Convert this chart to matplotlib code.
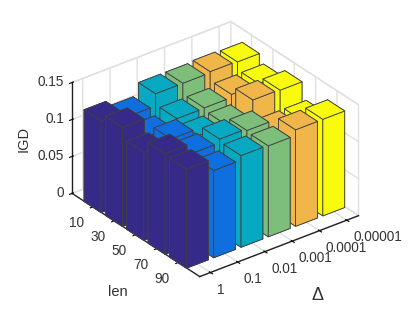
#!/usr/bin/env python3
"""3D bar chart of IGD against len and delta"""

import matplotlib
matplotlib.use("Agg")
import matplotlib.pyplot as plt
from mpl_toolkits.mplot3d import proj3d

plt.rcParams['font.family'] = ['Liberation Sans', 'DejaVu Sans']

delta_labels = ['1', '0.1', '0.01', '0.001', '0.0001', '0.00001']
len_labels = ['10', '30', '50', '70', '90']
z_ticks = [0, 0.05, 0.1, 0.15]
z_labels = ['0', '0.05', '0.1', '0.15']

# one list per delta, rows go len = 10, 30, 50, 70, 90
igd_1 = [0.124, 0.134, 0.119, 0.136, 0.134]
igd_01 = [0.116, 0.109, 0.123, 0.1225, 0.118]
igd_001 = [0.1325, 0.1176, 0.1135, 0.1275, 0.124]
igd_0001 = [0.1325, 0.118, 0.1145, 0.125, 0.123]
igd_00001 = [0.134, 0.122, 0.1333, 0.111, 0.1306]
igd_000001 = [0.133, 0.1225, 0.1324, 0.111, 0.1306]
igd = [igd_1, igd_01, igd_001, igd_0001, igd_00001, igd_000001]

colors = ['#352A87', '#0F6FDE', '#07A9C2', '#7DBE7B', '#F0B64A', '#F9FB0E']
text_color = '#333333'
grid_color = '#E0E0E0'
label_size = 9.8

fig = plt.figure(figsize=(4.15, 3.12), dpi=100)
ax = fig.add_axes([55.1 / 415, 2.7 / 312, 312 / 415, 1], projection='3d',
                  proj_type='ortho', computed_zorder=False)
ax.view_init(elev=30, azim=-127.5)
ax.set_box_aspect((200, 209.6, 128), zoom=0.986)

width = 0.8
for i, column in enumerate(igd):
    for j, value in enumerate(column):
        # back to front so the bars overlap the right way
        ax.bar3d(i + 1 - width / 2, j + 1 - width / 2, 0, width, width, value,
                 color=colors[i], edgecolor='#404040', linewidth=0.6,
                 shade=False, zorder=5 + j - i * 10)

x_low, x_high = 0.61, 6.43
y_front, y_back = 6.01, 0.03
ax.set_xlim(x_low, x_high)
ax.set_ylim(y_front, y_back)
ax.set_zlim(0, 0.15)

x_pos = list(range(1, len(delta_labels) + 1))
y_pos = list(range(1, len(len_labels) + 1))
ax.set_xticks(x_pos)
ax.set_yticks(y_pos)
ax.set_zticks(z_ticks)
ax.set_xticklabels([])
ax.set_yticklabels([])
ax.set_zticklabels([])

for axis in (ax.xaxis, ax.yaxis, ax.zaxis):
    axis.set_pane_color((1, 1, 1, 1))
    axis.pane.set_edgecolor(grid_color)
    axis.line.set_color('#222222')
    axis.line.set_linewidth(1.0)
    axis._axinfo['grid']['color'] = grid_color
    axis._axinfo['grid']['linewidth'] = 1.0
    axis._axinfo['tick']['color'] = '#222222'
    axis._axinfo['tick']['linewidth'] = {True: 0.8, False: 0.8}

# native 3d tick labels can't be placed finely, so put them by hand on the axis points
def tick_label(text, x, y, z, offset, ha):
    px, py, _ = proj3d.proj_transform(x, y, z, ax.get_proj())
    ax.annotate(text, xy=(px, py), xytext=offset, textcoords='offset points',
                ha=ha, va='center', fontsize=label_size, color=text_color,
                annotation_clip=False)

for pos, text in zip(x_pos, delta_labels):
    tick_label(text, pos, y_front, 0, (4.5, -12.3), 'left')
for pos, text in zip(y_pos, len_labels):
    tick_label(text, x_low, pos, 0, (-11.7, -11.5), 'center')
for pos, text in zip(z_ticks, z_labels):
    tick_label(text, x_low, y_back, pos, (-5.8, 0.5), 'right')

fig.text(24 / 415, 1 - 139 / 312, 'IGD', rotation=90, ha='center', va='center',
         fontsize=10.5, color=text_color)
fig.text(118 / 415, 1 - 292 / 312, 'len', ha='center', va='center',
         fontsize=10.5, color=text_color)
fig.text(317 / 415, 1 - 296 / 312, '\u0394', ha='center', va='center',
         fontsize=13, color=text_color)

fig.savefig('out.png', dpi=100)
